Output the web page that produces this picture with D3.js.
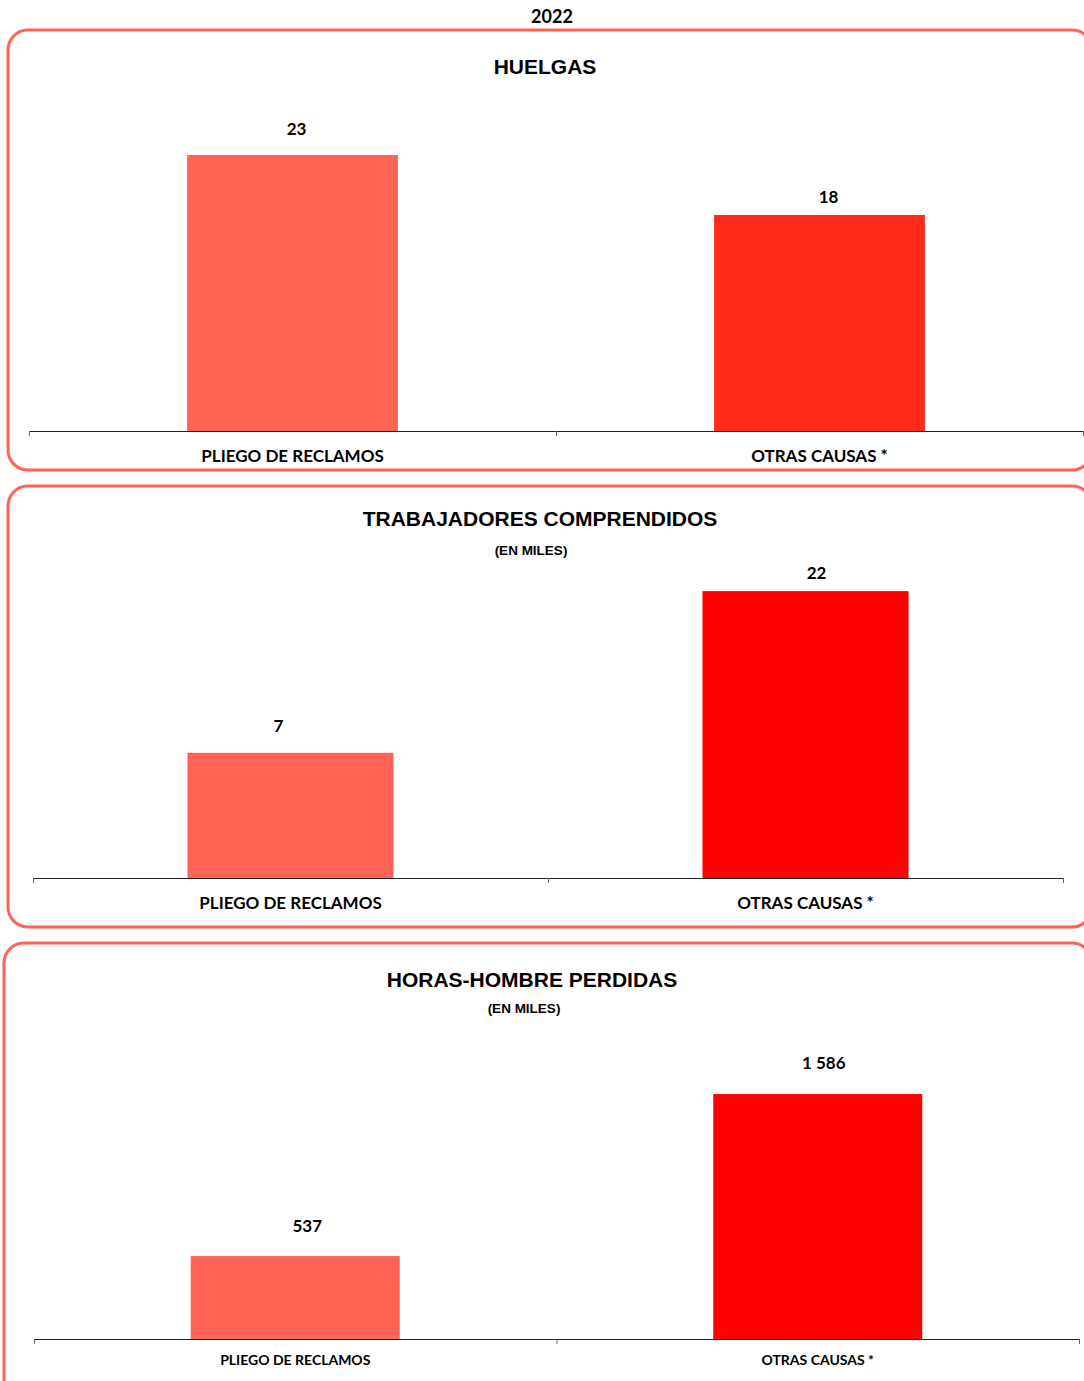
<!DOCTYPE html>
<html>
<head>
<meta charset="utf-8">
<script src="https://cdn.jsdelivr.net/npm/d3@7"></script>
<style>
  html, body { margin: 0; padding: 0; background: #fff; }
  svg { display: block; }
</style>
</head>
<body>
<svg id="chart" width="1084" height="1381"></svg>
<script>
// ---- Data ----
const year = "2022";
const categories = ["PLIEGO DE RECLAMOS", "OTRAS CAUSAS *"];

const huelgasValues = [23, 18];
const huelgasLabels = ["23", "18"];

// bar heights; printed labels as shown
const trabajadoresValues = [9.6, 22];
const trabajadoresLabels = ["7", "22"];

const horasValues = [537, 1586];
const horasLabels = ["537", "1 586"];

const panelTitles = ["HUELGAS", "TRABAJADORES COMPRENDIDOS", "HORAS-HOMBRE PERDIDAS"];
const panelSubtitles = ["", "(EN MILES)", "(EN MILES)"];

// ---- Layout / style ----
const labelFont = "Lato, 'Open Sans', sans-serif";
const titleFont = "'Liberation Sans', Arial, sans-serif";
const borderColor = "#FF6355";

const panels = [
  { values: huelgasValues, labels: huelgasLabels, title: panelTitles[0], sub: panelSubtitles[0],
    box: {x: 8, y: 30, w: 1084, h: 440}, axisY: 431, x0: 29, x1: 1083, yMax: 25, yTop: 131,
    colors: ["#FF6355", "#FF2A1A"], titleX: 545, titleY: 74, catSize: 17, catY: 462,
    lblDx: [1, 6], lblDy: [0, 8] },
  { values: trabajadoresValues, labels: trabajadoresLabels, title: panelTitles[1], sub: panelSubtitles[1],
    box: {x: 8, y: 486, w: 1084, h: 441}, axisY: 878, x0: 33, x1: 1063, yMax: 25, yTop: 552,
    colors: ["#FF6355", "#FF0000"], titleY: 526, subY: 555, subX: 531, titleX: 540, catSize: 17, catY: 909,
    lblDx: [-15, 8], lblDy: [-1, 8] },
  { values: horasValues, labels: horasLabels, title: panelTitles[2], sub: panelSubtitles[2],
    box: {x: 4, y: 943, w: 1088, h: 470}, axisY: 1339, x0: 34, x1: 1079, yMax: 1800, yTop: 1061,
    colors: ["#FF6355", "#FF0000"], titleY: 987, subY: 1013, subX: 524, titleX: 532, catSize: 14, catY: 1365,
    lblDx: [9, 3], lblDy: [-4, -5] }
];

const svg = d3.select("#chart");

svg.append("text")
  .attr("x", 552).attr("y", 23)
  .attr("text-anchor", "middle")
  .style("font-family", labelFont).style("font-weight", "bold").style("font-size", "18px")
  .attr("fill", "#000")
  .text(year);

panels.forEach(p => {
  const g = svg.append("g");

  g.append("rect")
    .attr("x", p.box.x).attr("y", p.box.y)
    .attr("width", p.box.w).attr("height", p.box.h)
    .attr("rx", 20).attr("ry", 20)
    .attr("fill", "none")
    .attr("stroke", borderColor).attr("stroke-width", 3);

  const x = d3.scaleBand().domain(categories).range([p.x0, p.x1]).paddingInner(0).paddingOuter(0);
  const y = d3.scaleLinear().domain([0, p.yMax]).range([p.axisY, p.yTop]);
  const bw = x.bandwidth();

  const data = categories.map((c, i) => ({ c, i, v: p.values[i], label: p.labels[i], color: p.colors[i] }));

  g.selectAll("rect.bar").data(data).enter().append("rect")
    .attr("class", "bar")
    .attr("x", d => x(d.c) + bw * 0.3)
    .attr("width", bw * 0.4)
    .attr("y", d => y(d.v))
    .attr("height", d => y(0) - y(d.v))
    .attr("fill", d => d.color);

  g.selectAll("text.val").data(data).enter().append("text")
    .attr("class", "val")
    .attr("x", d => x(d.c) + bw / 2 + 3 + p.lblDx[d.i])
    .attr("y", d => y(d.v) - 20 + p.lblDy[d.i])
    .attr("text-anchor", "middle")
    .style("font-family", labelFont).style("font-weight", "bold").style("font-size", "17px")
    .attr("fill", "#000")
    .text(d => d.label);

  // axis line + category boundary ticks
  const boundaries = categories.map(c => x(c)).concat([p.x1]);
  g.append("line")
    .attr("x1", p.x0).attr("x2", p.x1)
    .attr("y1", p.axisY + 0.5).attr("y2", p.axisY + 0.5)
    .attr("stroke", "#222").attr("stroke-width", 1);
  g.selectAll("line.tick").data(boundaries).enter().append("line")
    .attr("class", "tick")
    .attr("x1", d => d + 0.5).attr("x2", d => d + 0.5)
    .attr("y1", p.axisY).attr("y2", p.axisY + 5)
    .attr("stroke", "#666").attr("stroke-width", 1);

  // category labels via d3 axis
  const axisG = g.append("g")
    .attr("transform", `translate(0,${p.catY - 13})`)
    .call(d3.axisBottom(x).tickSize(0).tickPadding(0));
  axisG.select(".domain").remove();
  axisG.selectAll("text")
    .attr("dy", 0).attr("y", 13)
    .style("font-family", labelFont).style("font-weight", "bold").style("font-size", p.catSize + "px")
    .attr("fill", "#000");

  g.append("text")
    .attr("x", p.titleX).attr("y", p.titleY)
    .attr("text-anchor", "middle")
    .style("font-family", titleFont).style("font-weight", "bold").style("font-size", "21px")
    .attr("fill", "#000")
    .text(p.title);

  if (p.sub) {
    g.append("text")
      .attr("x", p.subX).attr("y", p.subY)
      .attr("text-anchor", "middle")
      .style("font-family", titleFont).style("font-weight", "bold").style("font-size", "13.5px")
      .attr("fill", "#000")
      .text(p.sub);
  }
});
</script>
</body>
</html>
